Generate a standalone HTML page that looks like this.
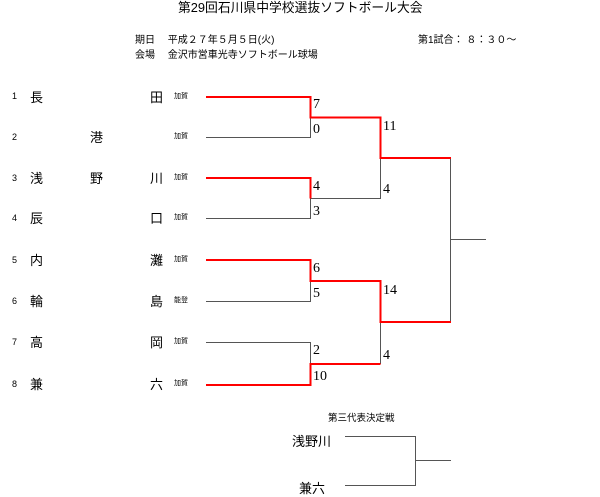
<!DOCTYPE html>
<html><head><meta charset="utf-8"><style>
body{margin:0;width:600px;height:497px;background:#fff;position:relative;overflow:hidden;font-family:"Liberation Sans","Noto Sans CJK JP",sans-serif;color:#000}
.t{position:absolute;white-space:nowrap;line-height:1}
.s{font-family:"Liberation Serif","Noto Serif CJK SC",serif;font-size:14px}
.n{font-size:9px}.k{font-size:7px}.m{font-size:13px}
</style></head><body>
<div class="t" style="left:178px;top:2px;font-size:12.8px">第29回石川県中学校選抜ソフトボール大会</div>
<div class="t" style="left:135px;top:36px;font-size:10px">期日　 平成２７年５月５日(火)</div>
<div class="t" style="left:135px;top:51px;font-size:10px">会場　 金沢市営車光寺ソフトボール球場</div>
<div class="t" style="left:418px;top:36px;font-size:10px">第1試合： ８：３０～</div>

<div class="t n" style="left:12px;top:92px">1</div><div class="t m" style="left:30px;top:91px">長</div><div class="t m" style="left:150px;top:91px">田</div><div class="t k" style="left:174px;top:93px">加賀</div>
<div class="t n" style="left:12px;top:133px">2</div><div class="t m" style="left:90px;top:131px">港</div><div class="t k" style="left:174px;top:133px">加賀</div>
<div class="t n" style="left:12px;top:174px">3</div><div class="t m" style="left:30px;top:172px">浅</div><div class="t m" style="left:90px;top:172px">野</div><div class="t m" style="left:150px;top:172px">川</div><div class="t k" style="left:174px;top:174px">加賀</div>
<div class="t n" style="left:12px;top:214px">4</div><div class="t m" style="left:30px;top:212px">辰</div><div class="t m" style="left:150px;top:212px">口</div><div class="t k" style="left:174px;top:214px">加賀</div>
<div class="t n" style="left:12px;top:256px">5</div><div class="t m" style="left:30px;top:254px">内</div><div class="t m" style="left:150px;top:254px">灘</div><div class="t k" style="left:174px;top:256px">加賀</div>
<div class="t n" style="left:12px;top:297px">6</div><div class="t m" style="left:30px;top:295px">輪</div><div class="t m" style="left:150px;top:295px">島</div><div class="t k" style="left:174px;top:297px">能登</div>
<div class="t n" style="left:12px;top:338px">7</div><div class="t m" style="left:30px;top:336px">高</div><div class="t m" style="left:150px;top:336px">岡</div><div class="t k" style="left:174px;top:338px">加賀</div>
<div class="t n" style="left:12px;top:380px">8</div><div class="t m" style="left:30px;top:378px">兼</div><div class="t m" style="left:150px;top:378px">六</div><div class="t k" style="left:174px;top:380px">加賀</div>

<svg width="600" height="497" style="position:absolute;left:0;top:0" fill="none">
<g stroke="#555" stroke-width="1">
<path d="M206 137.5H310.5V117"/>
<path d="M206 218.5H310.5V198.5H380.5V158"/>
<path d="M206 301.5H310.5V281"/>
<path d="M206 342.5H310.5V364"/>
<path d="M380.5 322V364"/>
<path d="M450.5 158V322"/>
<path d="M450 239.5H486"/>
<path d="M345 436.5H415.5V485.5H345"/>
<path d="M415 460.5H451"/>
</g>
<g stroke="#f00" stroke-width="2">
<path d="M206 97H310.5V117.5H380.5V158H451"/>
<path d="M206 178H310.5V198.5"/>
<path d="M206 260H310.5V281H380.5V322H451"/>
<path d="M206 385H310.5V364H380.5"/>
</g>
</svg>
<div class="t s" style="left:313px;top:98px">7</div>
<div class="t s" style="left:313px;top:123px">0</div>
<div class="t s" style="left:313px;top:180px">4</div>
<div class="t s" style="left:313px;top:205px">3</div>
<div class="t s" style="left:313px;top:262px">6</div>
<div class="t s" style="left:313px;top:287px">5</div>
<div class="t s" style="left:313px;top:344px">2</div>
<div class="t s" style="left:313px;top:370px">10</div>
<div class="t s" style="left:383px;top:120px">11</div>
<div class="t s" style="left:383px;top:183px">4</div>
<div class="t s" style="left:383px;top:284px">14</div>
<div class="t s" style="left:383px;top:349px">4</div>
<div class="t" style="left:328px;top:414px;font-size:9.5px">第三代表決定戦</div>
<div class="t m" style="left:292px;top:435px">浅野川</div>
<div class="t m" style="left:299px;top:482px">兼六</div>
</body></html>
